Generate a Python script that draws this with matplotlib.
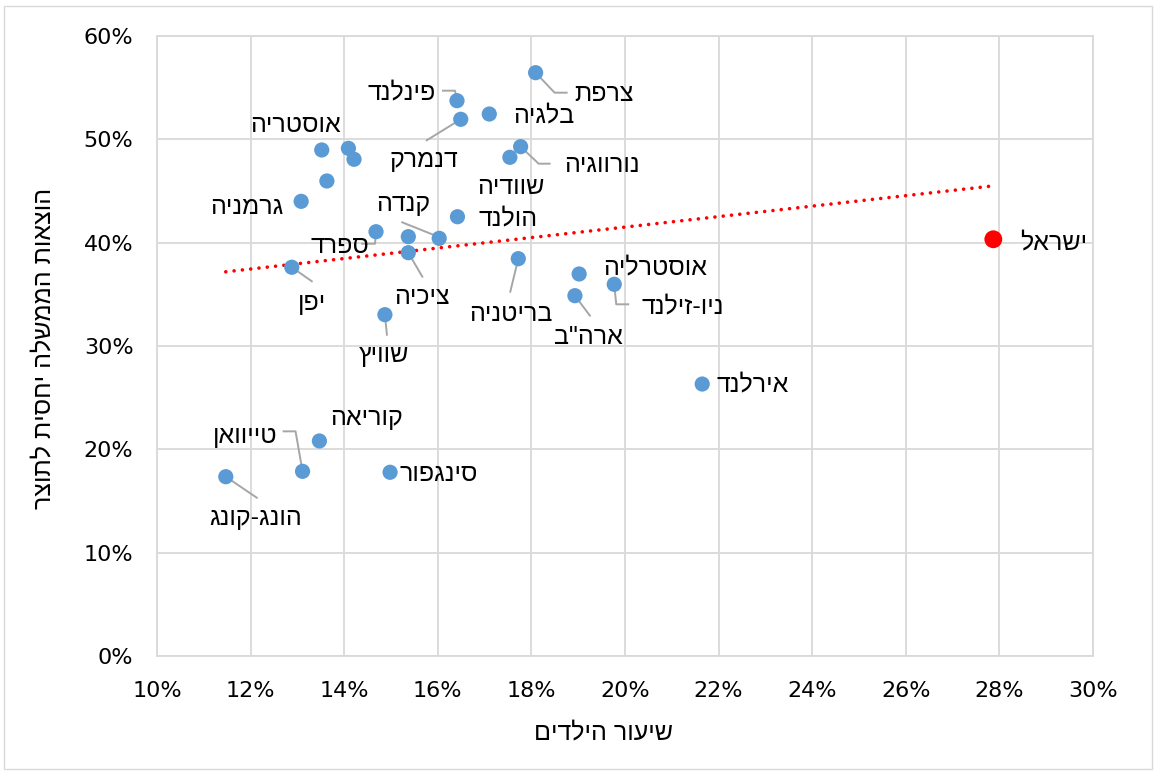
import matplotlib
matplotlib.use('Agg')
import matplotlib.pyplot as plt
from matplotlib.patches import Rectangle
from matplotlib.ticker import FuncFormatter
import numpy as np

# share of children (%) and government spending relative to GDP (%)
countries = ['צרפת', 'פינלנד', 'בלגיה', 'דנמרק', '', 'אוסטריה', '', '',
             'גרמניה', 'נורווגיה', 'שוודיה', 'הולנד', 'ספרד', '', 'קנדה',
             'ציכיה', 'יפן', 'בריטניה', 'אוסטרליה', 'ניו-זילנד', 'ארה"ב',
             'שוויץ', 'אירלנד', 'קוריאה', 'טייוואן', 'סינגפור', 'הונג-קונג',
             'ישראל']
children = [18.09, 16.41, 17.10, 16.49, 13.52, 14.09, 14.21, 13.63,
            13.08, 17.77, 17.54, 16.42, 14.68, 15.37, 16.03,
            15.37, 12.88, 17.72, 19.02, 19.77, 18.93,
            14.87, 21.65, 13.47, 13.11, 14.98, 11.47,
            27.87]
spending = [56.45, 53.74, 52.45, 51.94, 48.97, 49.13, 48.07, 45.97,
            44.00, 49.29, 48.26, 42.51, 41.06, 40.58, 40.42,
            39.03, 37.62, 38.45, 36.97, 35.97, 34.87,
            33.03, 26.32, 20.81, 17.87, 17.78, 17.35,
            40.33]
highlight = 'ישראל'

xlabel = 'שיעור הילדים'
ylabel = 'הוצאות הממשלה יחסית לתוצר'

# label layout: offset of label centre from point in pixels (x right, y down)
# and optional leader polyline (pixel offsets)
label_pos = {
    'צרפת': ((68, 21), [(0, 0), (19, 20), (31, 20)]),
    'פינלנד': ((-55, -8), [(0, -1), (-2, -10), (-14, -10)]),
    'בלגיה': ((54, 1), None),
    'דנמרק': ((-37, 41), [(0, 0), (-34, 21)]),
    'אוסטריה': ((-53, -23), None),
    'נורווגיה': ((81, 18), [(0, 0), (18, 17), (29, 17)]),
    'שוודיה': ((1, 30), None),
    'גרמניה': ((-54, 6), None),
    'הולנד': ((51, 2), None),
    'ספרד': ((-36, 14), [(0, 0), (-1, 12), (-14, 12)]),
    'קנדה': ((-36, -34), [(-2, -2), (-37, -16)]),
    'ציכיה': ((14, 44), [(0, 0), (14, 24)]),
    'יפן': ((20, 36), [(0, 0), (20, 14)]),
    'בריטניה': ((-7, 55), [(0, 0), (-8, 33)]),
    'אוסטרליה': ((76, -7), None),
    'ניו-זילנד': ((69, 22), [(0, 0), (2, 20), (14, 20)]),
    'ארה"ב': ((14, 41), [(0, 0), (15, 20)]),
    'שוויץ': ((-1, 40), [(0, 0), (2, 20)]),
    'אירלנד': ((50, 0), None),
    'ישראל': ((60, 3), None),
    'קוריאה': ((47, -23), None),
    'טייוואן': ((-57, -35), [(0, 0), (-7, -40), (-19, -40)]),
    'סינגפור': ((49, 2), None),
    'הונג-קונג': ((30, 41), [(0, 0), (31, 21)]),
}

def heb(s):
    # matplotlib has no bidi support: reverse for visual order
    return s[::-1]

W, H = 1157, 773
fig = plt.figure(figsize=(W / 100, H / 100), dpi=100)
ax = fig.add_axes([157 / W, 1 - 656 / H, (1093 - 157) / W, (656 - 36) / H])

ax.set_xlim(10, 30)
ax.set_ylim(0, 60)
ax.set_xticks(np.arange(10, 31, 2))
ax.set_yticks(np.arange(0, 61, 10))
ax.grid(True, color='#d9d9d9', lw=1.3)
ax.set_axisbelow(True)
for sp in ax.spines.values():
    sp.set_color('#d9d9d9')
    sp.set_linewidth(1.3)
ax.tick_params(length=0, labelsize=16, colors='black')
ax.tick_params(axis='x', pad=18)
ax.tick_params(axis='y', pad=17)
fmt = FuncFormatter(lambda v, p: f'{v:.0f}%')
ax.xaxis.set_major_formatter(fmt)
ax.yaxis.set_major_formatter(fmt)

x = np.array(children)
y = np.array(spending)

# trendline over all countries
a, b = np.polyfit(x, y, 1)
xt = np.array([x.min(), x.max()])
ax.plot(xt, a * xt + b, color='#ff0000', lw=2.6, linestyle=(0, (0.01, 2.3)),
        dash_capstyle='round', zorder=2)

colors = ['#ff0000' if c == highlight else '#5b9bd5' for c in countries]
sizes = [165 if c == highlight else 120 for c in countries]
ax.scatter(x, y, c=colors, s=sizes, zorder=3, linewidths=0)

fig.canvas.draw()
hebfont = 'Liberation Sans'
for c, xi, yi in zip(countries, x, y):
    if c not in label_pos:
        continue
    (dx, dy), leader = label_pos[c]
    ax.annotate(heb(c), (xi, yi), xytext=(dx * 0.72, -dy * 0.72),
                textcoords='offset points', ha='center', va='center',
                fontsize=18, family=hebfont, zorder=4)
    if leader:
        base = ax.transData.transform((xi, yi))
        pts = np.array([[base[0] + lx, base[1] - ly] for lx, ly in leader])
        d = ax.transData.inverted().transform(pts)
        ax.plot(d[:, 0], d[:, 1], color='#a6a6a6', lw=1.4, zorder=2.5)

fig.text(603 / W, 1 - 732 / H, heb(xlabel), fontsize=18, family=hebfont,
         ha='center', va='center')
fig.text(43 / W, 1 - 348 / H, heb(ylabel), fontsize=18, family=hebfont,
         ha='center', va='center', rotation=90)

fig.patches.append(Rectangle((4 / W, 4 / H), 1 - 9 / W, 1 - 10 / H,
                             transform=fig.transFigure, fill=False,
                             edgecolor='#d9d9d9', lw=1))

fig.savefig('out.png', dpi=100)
